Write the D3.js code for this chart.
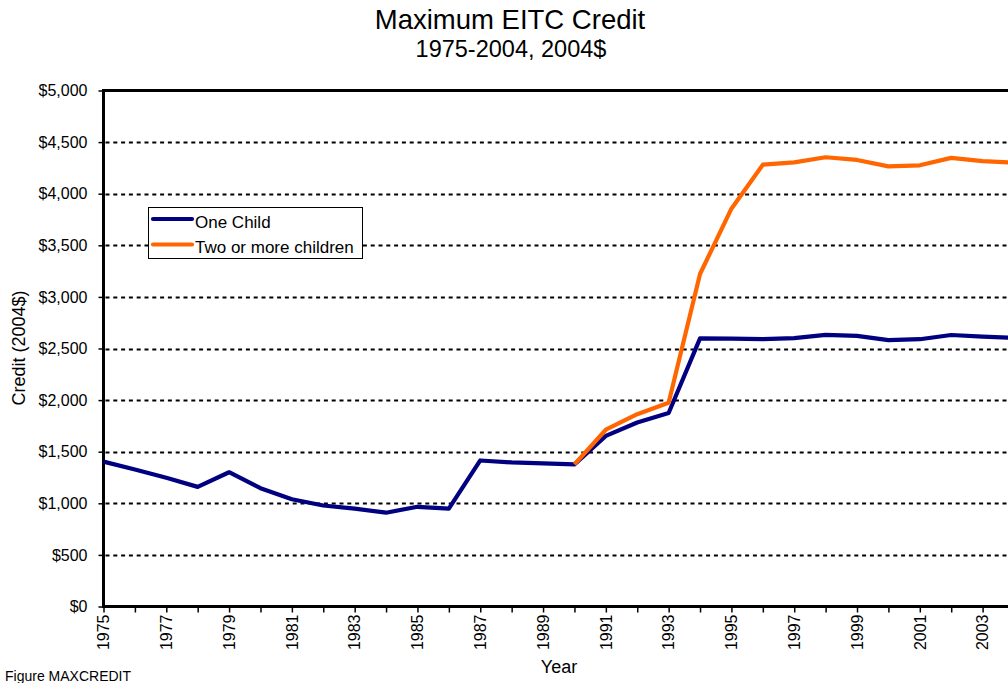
<!DOCTYPE html>
<html>
<head>
<meta charset="utf-8">
<script src="https://cdn.jsdelivr.net/npm/d3@7"></script>
<style>
  html, body { margin: 0; padding: 0; background: #fff; overflow: hidden; }
  svg { display: block; font-family: "Liberation Sans", Arial, sans-serif; }
</style>
</head>
<body>
<svg id="chart" width="1008" height="683"></svg>
<script>
// Maximum EITC credit, 1975-2004, in constant 2004 dollars
const years = d3.range(1975, 2005);
const oneChild = [1404, 1328, 1247, 1159, 1301, 1146, 1039, 979, 948, 909,
                  966, 948, 1415, 1396, 1386, 1377, 1653, 1783, 1875, 2598,
                  2596, 2591, 2601, 2632, 2622, 2581, 2590, 2631, 2615, 2604];
const twoOrMore = [null, null, null, null, null, null, null, null, null, null,
                   null, null, null, null, null, 1377, 1713, 1863, 1975, 3222,
                   3855, 4281, 4303, 4353, 4327, 4265, 4275, 4347, 4316, 4300];
const yTicks = [0, 500, 1000, 1500, 2000, 2500, 3000, 3500, 4000, 4500, 5000];
const xLabelYears = d3.range(1975, 2004, 2);
const seriesNames = ["One Child", "Two or more children"];
const seriesColors = ["#000080", "#FF6600"];

const svg = d3.select("#chart");
const plotLeft = 103.5, plotRight = 1014, plotTop = 90.5, plotBottom = 606.5;

const x = d3.scaleLinear().domain([1975, 2004]).range([plotLeft, plotRight]);
const y = d3.scaleLinear().domain([0, 5000]).range([plotBottom, plotTop]);

// Titles
svg.append("text").attr("x", 510).attr("y", 29).attr("text-anchor", "middle")
  .style("font-size", "27.5px").text("Maximum EITC Credit");
svg.append("text").attr("x", 511).attr("y", 57).attr("text-anchor", "middle")
  .style("font-size", "23.5px").text("1975-2004, 2004$");

// Dotted gridlines
svg.append("g").selectAll("line")
  .data(yTicks.filter(d => d > 0 && d < 5000))
  .join("line")
  .attr("x1", plotLeft + 2).attr("x2", plotRight)
  .attr("y1", d => Math.round(y(d)) + 0.5).attr("y2", d => Math.round(y(d)) + 0.5)
  .attr("stroke", "#000").attr("stroke-width", 2.2)
  .attr("stroke-dasharray", "4,3.8");

// Y axis
const yAxis = svg.append("g")
  .attr("transform", `translate(${plotLeft},0)`)
  .call(d3.axisLeft(y).tickValues(yTicks).tickSize(5).tickPadding(11)
    .tickFormat(d => "$" + d3.format(",")(d)));
yAxis.select(".domain").remove();
yAxis.selectAll(".tick line").attr("stroke", "#000").attr("stroke-width", 1.5);
yAxis.selectAll(".tick text").style("font-size", "16px").attr("fill", "#000");

// X axis: a tick every year, label every other year
const xAxis = svg.append("g")
  .attr("transform", `translate(0,${plotBottom})`)
  .call(d3.axisBottom(x).tickValues(years).tickSize(6).tickFormat(""));
xAxis.select(".domain").remove();
xAxis.selectAll(".tick line").attr("stroke", "#000").attr("stroke-width", 1.5);

svg.append("g").selectAll("text")
  .data(xLabelYears)
  .join("text")
  .attr("transform", d => `translate(${x(d)},${plotBottom + 8}) rotate(-90)`)
  .attr("text-anchor", "end").attr("dy", "0.36em")
  .style("font-size", "16px")
  .text(d => d);

// Plot frame
svg.append("rect")
  .attr("x", plotLeft).attr("y", plotTop)
  .attr("width", plotRight - plotLeft).attr("height", plotBottom - plotTop)
  .attr("fill", "none").attr("stroke", "#000").attr("stroke-width", 3);

// Series lines
const line = d3.line()
  .defined(d => d[1] != null)
  .x(d => x(d[0])).y(d => y(d[1]));

[oneChild, twoOrMore].forEach((vals, i) => {
  svg.append("path")
    .datum(years.map((yr, j) => [yr, vals[j]]))
    .attr("d", line)
    .attr("fill", "none")
    .attr("stroke", seriesColors[i])
    .attr("stroke-width", 4.2)
    .attr("stroke-linejoin", "round");
});

// Axis titles
svg.append("text")
  .attr("transform", "translate(25,348) rotate(-90)")
  .attr("text-anchor", "middle")
  .style("font-size", "18px").text("Credit (2004$)");
svg.append("text").attr("x", 559).attr("y", 673).attr("text-anchor", "middle")
  .style("font-size", "18px").text("Year");
svg.append("text").attr("x", 5).attr("y", 681)
  .style("font-size", "14px").text("Figure MAXCREDIT");

// Legend
const legend = svg.append("g");
legend.append("rect")
  .attr("x", 148.5).attr("y", 207.5).attr("width", 214).attr("height", 51)
  .attr("fill", "#fff").attr("stroke", "#000").attr("stroke-width", 1);
seriesNames.forEach((name, i) => {
  const ly = 219 + i * 25.5;
  legend.append("line")
    .attr("x1", 153).attr("x2", 192).attr("y1", ly).attr("y2", ly)
    .attr("stroke", seriesColors[i]).attr("stroke-width", 4.2)
    .attr("stroke-linecap", "round");
  legend.append("text")
    .attr("x", 195).attr("y", ly + 8.5)
    .style("font-size", "17px").text(name);
});
</script>
</body>
</html>
